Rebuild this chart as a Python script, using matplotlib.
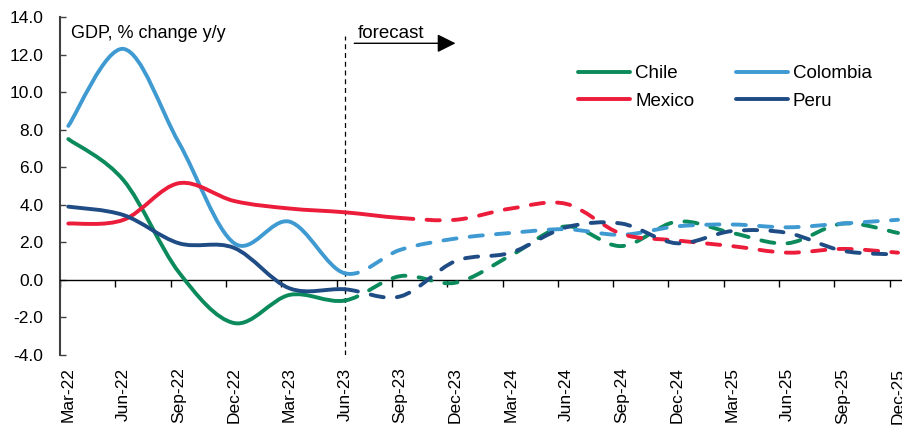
import numpy as np
import matplotlib.pyplot as plt
from matplotlib.path import Path
from matplotlib.patches import PathPatch
from matplotlib.lines import Line2D

plt.rcParams['font.family'] = ['Liberation Sans', 'DejaVu Sans']

quarters = ['Mar-22', 'Jun-22', 'Sep-22', 'Dec-22', 'Mar-23', 'Jun-23',
            'Sep-23', 'Dec-23', 'Mar-24', 'Jun-24', 'Sep-24', 'Dec-24',
            'Mar-25', 'Jun-25', 'Sep-25', 'Dec-25']

chile = [7.5, 5.3, 0.4, -2.3, -0.8, -1.1, 0.2, -0.15, 1.3, 2.85, 1.8, 3.1, 2.5, 1.95, 3.0, 2.5]
colombia = [8.2, 12.3, 7.3, 1.95, 3.1, 0.35, 1.6, 2.2, 2.5, 2.7, 2.4, 2.85, 2.95, 2.8, 3.0, 3.2]
mexico = [3.0, 3.2, 5.15, 4.2, 3.8, 3.6, 3.3, 3.2, 3.8, 4.05, 2.45, 2.1, 1.8, 1.45, 1.65, 1.45]
peru = [3.9, 3.45, 1.95, 1.7, -0.45, -0.5, -0.88, 1.0, 1.45, 2.8, 3.0, 1.95, 2.6, 2.5, 1.55, 1.35]

# last quarter with actual data for each country
last_actual = {'Chile': 5, 'Colombia': 5, 'Mexico': 6, 'Peru': 5}

series = [
    ('Chile', chile, '#0b8a5b'),
    ('Colombia', colombia, '#3f9ad2'),
    ('Mexico', mexico, '#ec1c3b'),
    ('Peru', peru, '#1f4c84'),
]


def smooth_path(xs, ys, start, stop):
    # spline through the points, drawn as cubic bezier segments
    pts = np.column_stack([xs, ys]).astype(float)
    n = len(pts)
    verts = [pts[start]]
    codes = [Path.MOVETO]
    for i in range(start, stop):
        p0 = pts[max(i - 1, 0)]
        p1 = pts[i]
        p2 = pts[i + 1]
        p3 = pts[min(i + 2, n - 1)]
        verts += [p1 + (p2 - p0) / 6, p2 - (p3 - p1) / 6, p2]
        codes += [Path.CURVE4] * 3
    return Path(verts, codes)


fig = plt.figure(figsize=(9.03, 4.25), dpi=100)
ax = fig.add_axes([60 / 903, 70 / 425, 1 - 60 / 903, 338 / 425])

x = np.arange(len(quarters))
lw = 2.8
for name, vals, color in series:
    cut = last_actual[name]
    solid = PathPatch(smooth_path(x, vals, 0, cut), fill=False, edgecolor=color,
                      lw=lw, capstyle='round', joinstyle='round', zorder=3)
    dashed = PathPatch(smooth_path(x, vals, cut, len(vals) - 1), fill=False,
                       edgecolor=color, lw=lw, linestyle=(0, (3.4, 3.4)),
                       capstyle='round', zorder=3)
    ax.add_patch(solid)
    ax.add_patch(dashed)

ax.set_xlim(-0.145, 15.09)
ax.set_ylim(-4, 14)

# y axis
ax.set_yticks(np.arange(-4, 15, 2))
ax.set_yticklabels([f'{v:.1f}' for v in np.arange(-4, 15, 2)])
ax.tick_params(axis='y', direction='in', length=4, width=1, color='#404040',
               labelsize=12.5, pad=12)
ax.spines['left'].set_color('#404040')
ax.spines['left'].set_linewidth(1.5)
ax.spines['right'].set_visible(False)
ax.spines['top'].set_visible(False)

# x axis line at zero with tick marks between quarters
ax.spines['bottom'].set_position(('data', 0))
ax.spines['bottom'].set_linewidth(1.0)
ax.set_xticks(x - 0.15)
ax.tick_params(axis='x', direction='out', length=5, width=1, labelbottom=False)

# quarter labels along the bottom edge
sec = ax.secondary_xaxis(0.0)
sec.set_xticks(x)
sec.set_xticklabels(quarters, rotation=90)
sec.tick_params(length=0, labelsize=12.5, pad=9)
sec.spines['bottom'].set_visible(False)

# forecast marker
ax.plot([5, 5], [-4, 13.0], color='black', lw=0.9, linestyle=(0, (4, 3)), zorder=2)
ax.annotate('', xy=(7.0, 12.6), xytext=(5.17, 12.6),
            arrowprops=dict(arrowstyle='-|>', color='black', lw=1.0,
                            mutation_scale=28, shrinkA=0, shrinkB=0))
ax.text(5.24, 12.9, 'forecast', fontsize=13.5, va='baseline', ha='left')
ax.text(0.04, 12.9, 'GDP, % change y/y', fontsize=13, va='baseline', ha='left')

handles = [Line2D([], [], color=c, lw=lw, solid_capstyle='round') for _, _, c in series]
labels = [n for n, _, _ in series]
order = [0, 2, 1, 3]
ax.legend([handles[i] for i in order], [labels[i] for i in order], ncol=2,
          loc='upper left', bbox_to_anchor=(578 / 903, 1 - 65 / 425),
          bbox_transform=fig.transFigure, frameon=False, fontsize=13.5,
          handlelength=2.8, handletextpad=0.25, columnspacing=2.2,
          labelspacing=0.55, borderpad=0, borderaxespad=0)

fig.savefig('out.png', dpi=100)
